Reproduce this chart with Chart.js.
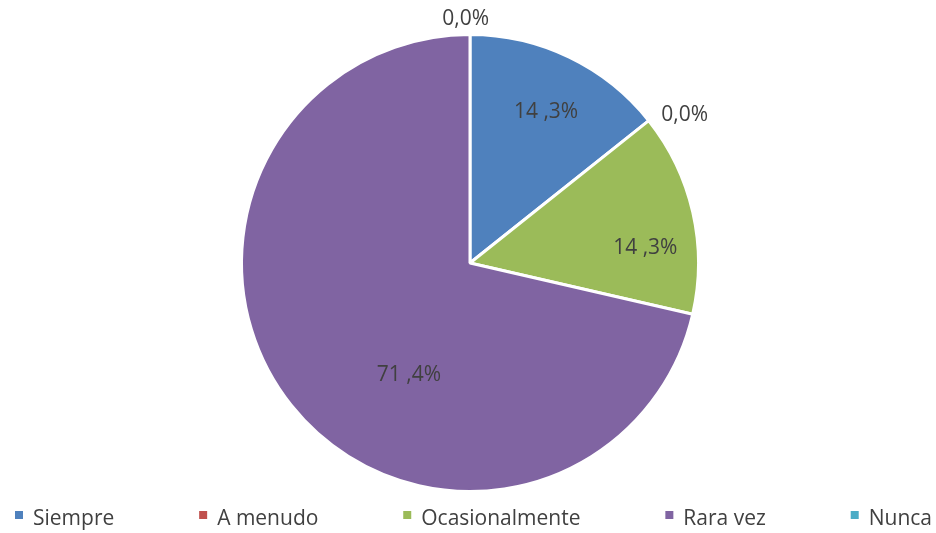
<!DOCTYPE html>
<html>
<head>
<meta charset="utf-8">
<script src="https://cdn.jsdelivr.net/npm/chart.js@4/dist/chart.umd.min.js"></script>
<style>
  html, body { margin: 0; padding: 0; background: #fff; }
  canvas { display: block; }
</style>
</head>
<body>
<canvas id="chart" width="936" height="533"></canvas>
<script>
const categories = ['Siempre', 'A menudo', 'Ocasionalmente', 'Rara vez', 'Nunca'];
const percents = [14.3, 0.0, 14.3, 71.4, 0.0];
const sliceColors = ['#4F81BD', '#C0504D', '#9BBB59', '#8064A2', '#4BACC6'];

// where each value label sits: shift from the slice mid angle (deg) and fraction of radius
const labelShift = [1, 4, 8, -23, -1];
const labelDist = [0.74, 1.14, 0.77, 0.56, 1.07];

const FONT = '"Open Sans", "DejaVu Sans", sans-serif';
const TEXT_COLOR = '#404040';

const formatPct = (v) => {
  const s = v.toFixed(1).replace('.', ',');
  return v >= 10 ? s.slice(0, -2) + ' ,' + s.slice(-1) + '%' : s + '%';
};

const valueLabels = {
  id: 'valueLabels',
  afterDatasetsDraw(chart) {
    const ctx = chart.ctx;
    const meta = chart.getDatasetMeta(0);
    ctx.save();
    ctx.font = `21px ${FONT}`;
    ctx.fillStyle = TEXT_COLOR;
    ctx.textAlign = 'center';
    ctx.textBaseline = 'middle';
    meta.data.forEach((arc, i) => {
      const { x, y, startAngle, endAngle, outerRadius } = arc.getProps(['x', 'y', 'startAngle', 'endAngle', 'outerRadius'], true);
      const mid = (startAngle + endAngle) / 2 + labelShift[i] * Math.PI / 180;
      const r = outerRadius * labelDist[i];
      ctx.fillText(formatPct(percents[i]), x + Math.cos(mid) * r, y + Math.sin(mid) * r);
    });
    ctx.restore();
  }
};

const bottomLegend = {
  id: 'bottomLegend',
  afterDraw(chart) {
    const ctx = chart.ctx;
    const box = 8, gapText = 10, left = 15, right = 932, midY = 519;
    ctx.save();
    ctx.font = `21px ${FONT}`;
    const widths = categories.map(c => box + gapText + ctx.measureText(c).width);
    const total = widths.reduce((a, w) => a + w, 0);
    const gap = (right - left - total) / (categories.length - 1);
    let x = left;
    categories.forEach((c, i) => {
      ctx.fillStyle = sliceColors[i];
      ctx.fillRect(x, midY - 8, box, box);
      ctx.fillStyle = TEXT_COLOR;
      ctx.textAlign = 'left';
      ctx.textBaseline = 'middle';
      ctx.fillText(c, x + box + gapText, midY);
      x += widths[i] + gap;
    });
    ctx.restore();
  }
};

new Chart(document.getElementById('chart'), {
  type: 'pie',
  data: {
    labels: categories,
    datasets: [{
      data: percents,
      backgroundColor: sliceColors,
      borderColor: '#ffffff',
      borderWidth: 3
    }]
  },
  options: {
    responsive: false,
    animation: false,
    layout: { padding: { top: 33, bottom: 40, left: 4, right: 0 } },
    plugins: {
      legend: { display: false },
      tooltip: { enabled: false }
    }
  },
  plugins: [valueLabels, bottomLegend]
});
</script>
</body>
</html>
